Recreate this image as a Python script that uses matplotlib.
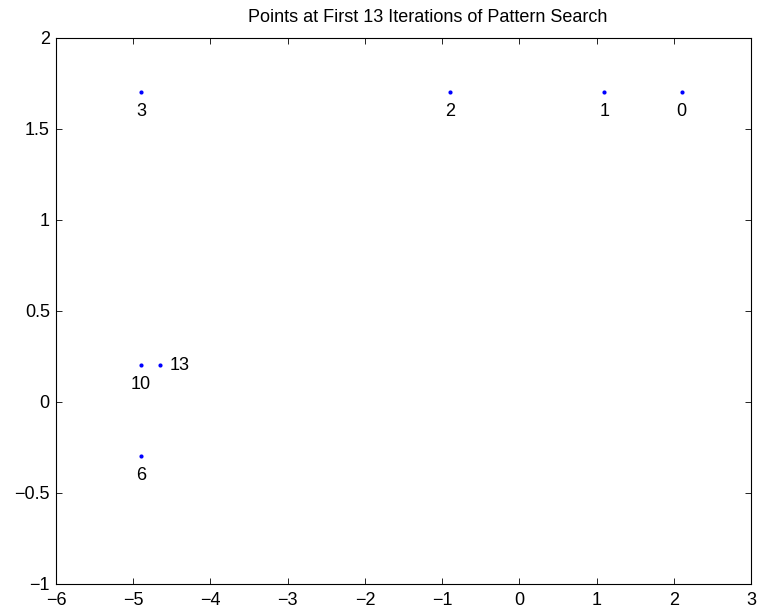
import matplotlib
matplotlib.use("Agg")
import matplotlib.pyplot as plt

x_vals = [2.1, 1.1, -0.9, -4.9, -4.9, -4.9, -4.65]
y_vals = [1.7, 1.7, 1.7, 1.7, -0.3, 0.2, 0.2]
labels = ["0", "1", "2", "3", "6", "10", "13"]
label_right = [False, False, False, False, False, False, True]
xticks = [-6, -5, -4, -3, -2, -1, 0, 1, 2, 3]
yticks = [-1, -0.5, 0, 0.5, 1, 1.5, 2]
ytick_labels = ["\u22121", "\u22120.5", "0", "0.5", "1", "1.5", "2"]
title = "Points at First 13 Iterations of Pattern Search"

plt.rcParams['font.family'] = ['Liberation Sans', 'DejaVu Sans']
fig = plt.figure(figsize=(7.58, 6.16), dpi=100)
ax = fig.add_axes([0.0739, 0.052, 0.917, 0.887])
ax.plot(x_vals, y_vals, linestyle='none', marker='o', markersize=3,
        color='#0000ff', markeredgewidth=0)
for xv, yv, lab, right in zip(x_vals, y_vals, labels, label_right):
    if right:
        ax.annotate(lab, (xv, yv), xytext=(6.5, 0), textcoords='offset points',
                    ha='left', va='center', fontsize=13)
    else:
        ax.annotate(lab, (xv, yv), xytext=(0, -7.5), textcoords='offset points',
                    ha='center', va='top', fontsize=13)
ax.set_xlim(-6, 3)
ax.set_ylim(-1, 2)
ax.set_xticks(xticks)
ax.set_yticks(yticks)
ax.set_yticklabels(ytick_labels)
ax.tick_params(direction='in', length=4, width=0.6, top=True, right=True,
               labelsize=13, pad=5.5)
ax.tick_params(axis='y', pad=4.5)
for s in ax.spines.values():
    s.set_linewidth(0.8)
ax.set_title(title, fontsize=13, pad=11, x=0.535)
fig.savefig("out.png", dpi=100)
